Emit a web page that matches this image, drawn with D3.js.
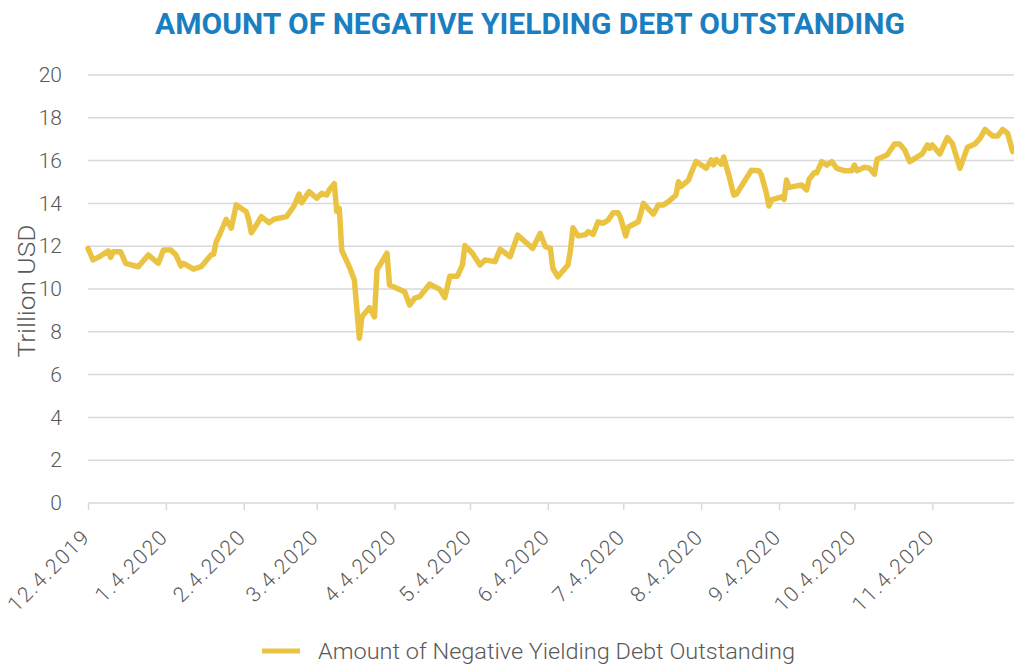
<!DOCTYPE html>
<html>
<head>
<meta charset="utf-8">
<script src="https://cdn.jsdelivr.net/npm/d3@7"></script>
<style>
body { margin: 0; background: #fff; }
svg { display: block; font-family: Roboto, "Noto Sans", sans-serif; }
</style>
</head>
<body>
<div id="chart"></div>
<script>
var width = 1014, height = 664;
var margin = {top: 75, right: 1.3, bottom: 161, left: 88};

var title = "AMOUNT OF NEGATIVE YIELDING DEBT OUTSTANDING";
var seriesName = "Amount of Negative Yielding Debt Outstanding";
var yLabel = "Trillion USD";

// dates and trillion USD values
var dates = ["2019-12-04","2019-12-06","2019-12-09","2019-12-12","2019-12-13","2019-12-14","2019-12-17","2019-12-19",
	"2019-12-24","2019-12-28","2020-01-01","2020-01-03","2020-01-06","2020-01-08","2020-01-10","2020-01-11",
	"2020-01-15","2020-01-18","2020-01-22","2020-01-23","2020-01-24","2020-01-25","2020-01-28","2020-01-30",
	"2020-02-01","2020-02-05","2020-02-06","2020-02-07","2020-02-09","2020-02-11","2020-02-14","2020-02-16",
	"2020-02-21","2020-02-24","2020-02-26","2020-02-27","2020-03-01","2020-03-04","2020-03-06","2020-03-08",
	"2020-03-09","2020-03-11","2020-03-12","2020-03-13","2020-03-14","2020-03-17","2020-03-19","2020-03-21",
	"2020-03-22","2020-03-25","2020-03-27","2020-03-28","2020-04-01","2020-04-02","2020-04-08","2020-04-10",
	"2020-04-12","2020-04-14","2020-04-18","2020-04-22","2020-04-24","2020-04-26","2020-04-29","2020-05-01",
	"2020-05-02","2020-05-05","2020-05-08","2020-05-10","2020-05-14","2020-05-16","2020-05-20","2020-05-23",
	"2020-05-29","2020-06-01","2020-06-03","2020-06-05","2020-06-06","2020-06-08","2020-06-12","2020-06-13",
	"2020-06-14","2020-06-16","2020-06-19","2020-06-20","2020-06-22","2020-06-24","2020-06-26","2020-06-28",
	"2020-06-30","2020-07-02","2020-07-03","2020-07-05","2020-07-06","2020-07-10","2020-07-11","2020-07-12",
	"2020-07-16","2020-07-18","2020-07-20","2020-07-22","2020-07-25","2020-07-26","2020-07-27","2020-07-30",
	"2020-07-31","2020-08-02","2020-08-06","2020-08-08","2020-08-09","2020-08-10","2020-08-12","2020-08-13",
	"2020-08-15","2020-08-17","2020-08-18","2020-08-24","2020-08-27","2020-08-28","2020-08-30","2020-08-31",
	"2020-09-01","2020-09-05","2020-09-06","2020-09-07","2020-09-08","2020-09-13","2020-09-15","2020-09-16",
	"2020-09-18","2020-09-19","2020-09-21","2020-09-23","2020-09-25","2020-09-27","2020-09-30","2020-10-03",
	"2020-10-04","2020-10-05","2020-10-08","2020-10-10","2020-10-12","2020-10-13","2020-10-17","2020-10-20",
	"2020-10-22","2020-10-24","2020-10-26","2020-10-31","2020-11-02","2020-11-03","2020-11-04","2020-11-07",
	"2020-11-10","2020-11-12","2020-11-15","2020-11-18","2020-11-21","2020-11-23","2020-11-25","2020-11-28",
	"2020-11-30","2020-12-02","2020-12-04","2020-12-06"];
var values = [11.9,11.36,11.54,11.78,11.48,11.74,11.74,11.2,
	11.04,11.59,11.2,11.82,11.82,11.59,11.07,11.2,
	10.93,11.04,11.59,11.63,12.21,12.44,13.26,12.84,
	13.93,13.61,13.22,12.63,12.99,13.38,13.1,13.26,
	13.38,13.88,14.44,14.03,14.55,14.24,14.47,14.39,
	14.63,14.92,13.63,13.77,11.8,11.04,10.42,7.7,
	8.7,9.13,8.7,10.89,11.67,10.19,9.87,9.25,
	9.57,9.64,10.23,9.98,9.6,10.6,10.6,11.12,
	12.03,11.67,11.12,11.36,11.28,11.86,11.51,12.52,
	11.9,12.6,11.98,11.9,10.97,10.57,11.12,11.8,
	12.86,12.48,12.54,12.68,12.55,13.14,13.07,13.22,
	13.56,13.56,13.3,12.48,12.9,13.14,13.54,14.0,
	13.5,13.93,13.93,14.08,14.39,15.01,14.79,15.09,
	15.41,15.96,15.64,16.03,15.8,16.05,15.83,16.17,
	15.33,14.39,14.43,15.55,15.53,15.33,14.47,13.88,
	14.16,14.31,14.19,15.09,14.75,14.86,14.63,15.13,
	15.43,15.43,15.95,15.79,15.95,15.64,15.53,15.53,
	15.79,15.53,15.69,15.64,15.37,16.06,16.26,16.78,
	16.78,16.5,15.95,16.31,16.73,16.57,16.73,16.31,
	17.08,16.8,15.64,16.62,16.78,17.04,17.46,17.15,
	17.15,17.46,17.27,16.42];

var tickDates = ["2019-12-04","2020-01-04","2020-02-04","2020-03-04","2020-04-04","2020-05-04",
	"2020-06-04","2020-07-04","2020-08-04","2020-09-04","2020-10-04","2020-11-04"];
var tickLabels = ["12.4.2019","1.4.2020","2.4.2020","3.4.2020","4.4.2020","5.4.2020",
	"6.4.2020","7.4.2020","8.4.2020","9.4.2020","10.4.2020","11.4.2020"];
var yTicks = [0, 2, 4, 6, 8, 10, 12, 14, 16, 18, 20];

var parse = d3.timeParse("%Y-%m-%d");
var data = dates.map(function(d, i) { return {date: parse(d), value: values[i]}; });

var svg = d3.select("#chart").append("svg")
	.attr("width", width).attr("height", height);

var x = d3.scaleTime()
	.domain([parse("2019-12-04"), parse("2020-12-06")])
	.range([margin.left, width - margin.right]);
var y = d3.scaleLinear()
	.domain([0, 20])
	.range([503, margin.top]);

// title
svg.append("text")
	.attr("x", 530).attr("y", 34)
	.attr("text-anchor", "middle")
	.attr("font-size", 29).attr("font-weight", 700)
	.attr("fill", "#1a7fc1")
	.attr("textLength", 750).attr("lengthAdjust", "spacingAndGlyphs")
	.text(title);

// gridlines
svg.append("g").selectAll("line")
	.data(yTicks.filter(function(d) { return d > 0; }))
	.enter().append("line")
	.attr("x1", margin.left).attr("x2", width)
	.attr("y1", function(d) { return y(d); }).attr("y2", function(d) { return y(d); })
	.attr("stroke", "#d9d9d9").attr("stroke-width", 1.5);

// y axis labels
var yAxis = d3.axisLeft(y).tickValues(yTicks).tickSize(0).tickPadding(26);
var yg = svg.append("g").attr("transform", "translate(" + margin.left + ",0)").call(yAxis);
yg.select(".domain").remove();
yg.selectAll("text").attr("font-size", 21).attr("fill", "#595959")
	.attr("font-family", "Roboto").attr("font-weight", 300);

svg.append("text")
	.attr("transform", "translate(35,291) rotate(-90)")
	.attr("text-anchor", "middle")
	.attr("font-size", 24).attr("fill", "#595959").attr("font-weight", 300)
	.attr("textLength", 133).attr("lengthAdjust", "spacingAndGlyphs")
	.text(yLabel);

// x axis
var xAxis = d3.axisBottom(x)
	.tickValues(tickDates.map(parse))
	.tickFormat(function(d, i) { return tickLabels[i]; })
	.tickSize(7).tickSizeOuter(0);
var xg = svg.append("g").attr("transform", "translate(0,503)").call(xAxis);
xg.select(".domain").attr("d", "M" + margin.left + ",0H" + width)
	.attr("stroke", "#d9d9d9").attr("stroke-width", 1.5);
xg.selectAll(".tick line").attr("stroke", "#d9d9d9").attr("stroke-width", 1.5);
xg.selectAll(".tick text")
	.attr("font-size", 21).attr("fill", "#595959").attr("font-weight", 300)
	.attr("font-family", "Roboto")
	.attr("letter-spacing", 1.6)
	.attr("text-anchor", "end")
	.attr("dy", 0).attr("y", 0)
	.attr("transform", "translate(3,35) rotate(-45)");

// line
var line = d3.line()
	.x(function(d) { return x(d.date); })
	.y(function(d) { return y(d.value); })
	.curve(d3.curveLinear);
svg.append("path").datum(data)
	.attr("d", line)
	.attr("fill", "none")
	.attr("stroke", "#ebc343").attr("stroke-width", 5.5)
	.attr("stroke-linejoin", "round").attr("stroke-linecap", "round");

// legend
var lg = svg.append("g").attr("transform", "translate(262,651)");
lg.append("line").attr("x1", 0).attr("x2", 38).attr("y1", 0).attr("y2", 0)
	.attr("stroke", "#ebc343").attr("stroke-width", 5);
lg.append("text").attr("x", 56).attr("y", 8)
	.attr("font-size", 22).attr("fill", "#595959").attr("font-weight", 300)
	.attr("textLength", 477).attr("lengthAdjust", "spacingAndGlyphs")
	.text(seriesName);
</script>
</body>
</html>
